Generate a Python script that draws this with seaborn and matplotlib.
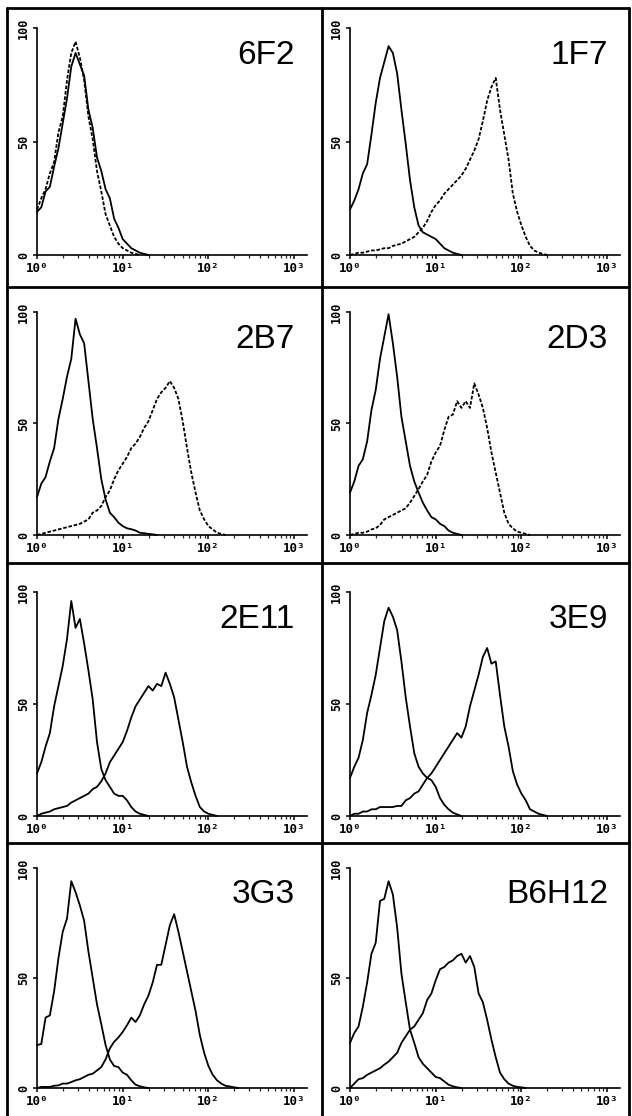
import matplotlib
matplotlib.use('Agg')
import matplotlib.pyplot as plt
from matplotlib.lines import Line2D
from matplotlib.ticker import LogLocator, NullFormatter
import seaborn as sns

# ========== Data: histogram height (% of max) per log10 channel ==========
LOG_CH = [0.00, 0.05, 0.10, 0.15, 0.20, 0.25, 0.30, 0.35, 0.40, 0.45,
          0.50, 0.55, 0.60, 0.65, 0.70, 0.75, 0.80, 0.85, 0.90, 0.95,
          1.00, 1.05, 1.10, 1.15, 1.20, 1.25, 1.30, 1.35, 1.40, 1.45,
          1.50, 1.55, 1.60, 1.65, 1.70, 1.75, 1.80, 1.85, 1.90, 1.95,
          2.00, 2.05, 2.10, 2.15, 2.20, 2.25, 2.30, 2.35, 2.40]

NAMES = ['6F2', '1F7', '2B7', '2D3', '2E11', '3E9', '3G3', 'B6H12']

CTRL_6F2 = [19, 21, 28, 30, 39, 47, 58, 69, 83, 89, 84, 79, 64, 56, 43, 37, 29, 25, 16, 12, 7, 5, 3, 2, 1, 0.5, 0]
MAB_6F2 = [20, 25, 29, 36, 41, 54, 61, 77, 89, 94, 87, 77, 61, 51, 37, 28, 18, 13, 8, 5, 3, 2, 1, 0.5, 0]

CTRL_1F7 = [20, 24, 29, 36, 40, 53, 67, 78, 85, 92, 89, 80, 64, 49, 33, 21, 13, 10, 9, 8, 7, 5, 3, 2, 1, 0.5, 0]
MAB_1F7 = [0, 0.5, 1, 1, 1.5, 2, 2, 2.5, 3, 3, 4, 4.5, 5, 6, 7, 8, 10, 12, 15, 19,
           22, 24, 27, 29, 31, 33, 35, 38, 42, 46, 51, 59, 68, 74, 78, 64, 53, 42, 27, 19,
           13, 8, 4, 2, 1, 0.5, 0]

CTRL_2B7 = [17, 23, 26, 33, 39, 52, 61, 71, 79, 97, 90, 86, 69, 52, 39, 25, 16, 10, 8, 5.5, 4, 3, 2.6, 2, 1, 0.8, 0.5, 0.3, 0]
MAB_2B7 = [0, 0.5, 1, 1.5, 2, 2.5, 3, 3.5, 4, 4.5, 5, 6, 7, 10, 11, 13, 17, 20, 25, 29,
           32, 35, 39, 41, 44, 48, 51, 56, 61, 64, 66, 69, 66, 61, 51, 39, 28, 19, 11, 7,
           4, 2.5, 1, 0.5, 0]

CTRL_2D3 = [19, 24, 31, 34, 42, 56, 65, 79, 89, 99, 86, 71, 53, 42, 31, 24, 19, 14.5, 11, 8, 7, 5, 4, 2, 1, 0.5, 0]
MAB_2D3 = [0, 0.5, 1, 1, 1.5, 2.5, 3, 4.5, 7, 8, 9, 10, 11, 12, 14.5, 17.5, 20.6, 24, 27, 33,
           37, 40, 47, 53, 54, 60, 57, 60, 57, 68, 63, 57, 48, 37, 28, 19, 10, 5, 3, 1.5,
           1, 0.5, 0]

CTRL_2E11 = [19, 24, 31, 37, 49, 58, 67, 79, 96, 84, 88, 77, 65, 52, 33, 21, 16, 13, 10, 9, 9, 7, 4, 2, 1, 0.5, 0]
MAB_2E11 = [0, 1, 1.5, 2, 3, 3.5, 4, 4.5, 6, 7, 8, 9, 10, 12, 13, 15.5, 19, 24, 27, 30,
            33, 38, 44, 49, 52, 55, 58, 56, 59, 58, 64, 59, 53, 43, 33, 22, 15, 9, 4, 2,
            1, 0.5, 0]

CTRL_3E9 = [17, 22, 26, 34, 46, 54, 63, 75, 87, 93, 89, 83, 69, 53, 40, 28, 22, 19, 17, 16, 13, 8, 5, 3, 1.5, 0.7, 0]
MAB_3E9 = [0, 1, 1, 2, 2, 3, 3, 4, 4, 4, 4, 4.5, 4.5, 7, 8, 10, 11, 14, 17, 19,
           22, 25, 28, 31, 34, 37, 35, 40, 49, 56, 63, 71, 75, 68, 69, 54, 40, 31, 20, 14,
           10, 7, 3, 2, 1, 0.5, 0]

CTRL_3G3 = [19.5, 20, 32, 33, 44, 59, 71, 77, 94, 89, 83, 76, 62, 50, 38, 29, 19.5, 13, 10, 9.5, 7, 6, 3.5, 1.5, 0.8, 0.3, 0]
MAB_3G3 = [0, 0.5, 0.5, 0.5, 1, 1.2, 2, 2, 2.7, 3.5, 4, 5, 6, 6.5, 8, 9.5, 13, 18, 21, 23,
           25.5, 28.5, 32, 30, 33, 38, 42, 48, 56, 56, 65, 74, 79, 71, 62, 53, 44, 35, 24, 16,
           10, 6, 3.5, 2, 1, 0.7, 0.3, 0]

CTRL_B6H12 = [20.5, 25, 28, 37, 48, 61, 66, 85, 86, 94, 88, 73, 52, 39, 26.5, 20.5, 14, 11, 9, 7, 5, 4.5, 3, 1.5, 0.8, 0.3, 0]
MAB_B6H12 = [0, 2, 4, 4.5, 6, 7, 8, 9, 10.6, 12, 14, 16, 20.5, 23.5, 26.5, 28, 31, 34, 40, 43,
             49, 54, 55, 57, 58, 60, 61, 57, 60, 55, 43, 39, 31, 22, 14, 7, 4, 2, 1, 0.5,
             0.3, 0]

CONTROLS = [CTRL_6F2, CTRL_1F7, CTRL_2B7, CTRL_2D3, CTRL_2E11, CTRL_3E9, CTRL_3G3, CTRL_B6H12]
SAMPLES = [MAB_6F2, MAB_1F7, MAB_2B7, MAB_2D3, MAB_2E11, MAB_3E9, MAB_3G3, MAB_B6H12]
DASHED_SAMPLE = [True, True, True, True, False, False, False, False]

# ========== Layout (pixels) ==========
W, H = 632, 1116
COL_LEFT = [37, 350]
ROW_BASE = [255, 535, 816, 1088]
ROW_H = [227, 223, 224, 220]
AX_W = 270

sns.set_theme(style='ticks')
plt.rcParams['font.family'] = ['DejaVu Sans Mono']

fig = plt.figure(figsize=(W / 100, H / 100), dpi=100)


def draw_curve(ax, vals, dashed):
    xs = [10 ** v for v in LOG_CH[:len(vals)]]
    ls = (0, (2.0, 1.0)) if dashed else '-'
    sns.lineplot(x=xs, y=vals, ax=ax, color='black', linewidth=1.3,
                 linestyle=ls, sort=False, estimator=None, clip_on=False)


for i, name in enumerate(NAMES):
    r, c = divmod(i, 2)
    ax = fig.add_axes([COL_LEFT[c] / W, 1 - ROW_BASE[r] / H, AX_W / W, ROW_H[r] / H])

    draw_curve(ax, CONTROLS[i], False)
    draw_curve(ax, SAMPLES[i], DASHED_SAMPLE[i])

    ax.set_xscale('log')
    ax.set_xlim(1, 10 ** 3.15)
    ax.set_ylim(0, 100)
    ax.set_xlabel('')
    ax.set_ylabel('')

    for s in ['top', 'right']:
        ax.spines[s].set_visible(False)
    for s in ['left', 'bottom']:
        ax.spines[s].set_linewidth(1.2)
        ax.spines[s].set_color('black')

    ax.set_xticks([1, 10, 100, 1000])
    ax.set_xticklabels(['10⁰', '10¹', '10²', '10³'])
    ax.xaxis.set_minor_locator(LogLocator(base=10, subs=(2, 3, 4, 5, 6, 7, 8, 9)))
    ax.xaxis.set_minor_formatter(NullFormatter())
    ax.set_yticks([0, 50, 100])
    ax.set_yticklabels(['0', '50', '100'], rotation=90, va='center')

    ax.tick_params(axis='both', which='major', direction='out', length=3, width=1.1,
                   pad=2, labelsize=9, colors='black')
    ax.tick_params(axis='y', labelsize=8.5)
    ax.tick_params(axis='x', which='minor', direction='out', length=2, width=0.9)
    for lab in ax.get_xticklabels() + ax.get_yticklabels():
        lab.set_fontweight('bold')

    ax.text(0.955, 0.84, name, transform=ax.transAxes, ha='right', va='baseline',
            fontsize=24, family='Liberation Sans', color='black')


# panel frame lines
def frame_line(x1, y1, x2, y2):
    fig.add_artist(Line2D([x1 / W, x2 / W], [1 - y1 / H, 1 - y2 / H],
                          transform=fig.transFigure, color='black', linewidth=2.0))


for xv in [7, 322, 629]:
    frame_line(xv, 8, xv, H)
for yv in [8, 287, 563, 843]:
    frame_line(7, yv, 629, yv)

fig.savefig('out.png', dpi=100)
